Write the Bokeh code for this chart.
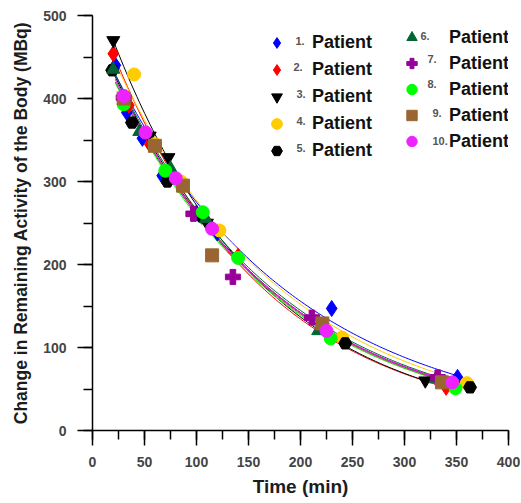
import numpy as np
from bokeh.plotting import figure
from bokeh.models import Range1d, SingleIntervalTicker, Legend, LegendItem, Label, ColumnDataSource
from bokeh.embed import file_html
from bokeh.resources import INLINE

# ---- data ----
patients = ["1.", "2.", "3.", "4.", "5.", "6.", "7.", "8.", "9.", "10."]
colors = ["#0000FF", "#FF0000", "#000000", "#FFCC00", "#000000",
          "#006633", "#990099", "#00FF00", "#996633", "#EE22FF"]
markers = ["diamond", "diamond", "inverted_triangle", "circle", "hex",
           "triangle", "plus", "circle", "square", "circle"]

t1 = [22, 33, 48, 67, 100, 120, 230, 351]
y1 = [440, 383, 352, 307, 262, 238, 147, 64]
t2 = [20, 35, 55, 75, 105, 140, 225, 340]
y2 = [454, 392, 345, 310, 258, 210, 118, 52]
t3 = [20, 55, 73, 110, 220, 320]
y3 = [470, 355, 329, 250, 125, 60]
t4 = [40, 60, 85, 122, 240, 360]
y4 = [429, 345, 300, 241, 112, 57]
t5 = [19, 38, 72, 105, 243, 363]
y5 = [434, 371, 300, 258, 105, 52]
t6 = [20, 45, 75, 109, 217, 330]
y6 = [435, 360, 316, 255, 120, 62]
t7 = [30, 97, 135, 211, 332]
y7 = [401, 261, 185, 136, 64]
t8 = [30, 70, 106, 140, 229, 349]
y8 = [393, 313, 263, 208, 111, 51]
t9 = [30, 60, 87, 115, 221, 336]
y9 = [400, 343, 295, 211, 129, 58]
t10 = [30, 51, 80, 115, 225, 346]
y10 = [403, 359, 304, 243, 120, 58]

# exponential fit parameters per patient: A * exp(-k t)
fit_amplitude = [486, 520, 539, 505, 488, 490, 480, 480, 485, 484]
fit_rate = [0.00569, 0.00677, 0.00686, 0.0060, 0.00617, 0.0061, 0.0061, 0.0062, 0.0062, 0.00613]
fit_start = [20, 20, 20, 22, 19, 20, 22, 22, 22, 22]

times = [t1, t2, t3, t4, t5, t6, t7, t8, t9, t10]
values = [y1, y2, y3, y4, y5, y6, y7, y8, y9, y10]

x_ticks_interval = 50
y_ticks_interval = 100

FONT = "Liberation Sans"

p = figure(frame_width=416, frame_height=415,
           min_border_left=92, min_border_top=15, min_border_right=12, min_border_bottom=72,
           x_range=Range1d(0, 400), y_range=Range1d(0, 500),
           output_backend="svg", toolbar_location=None)
p.outline_line_color = None
p.xgrid.grid_line_color = None
p.ygrid.grid_line_color = None
p.background_fill_color = "white"
p.border_fill_color = "white"

for ax, interval in ((p.xaxis, x_ticks_interval), (p.yaxis, y_ticks_interval)):
    ax.ticker = SingleIntervalTicker(interval=interval, num_minor_ticks=2)
    ax.axis_line_width = 1.5
    ax.major_tick_line_width = 1.5
    ax.minor_tick_line_width = 1.5
    ax.major_tick_out = 15
    ax.major_tick_in = 0
    ax.minor_tick_out = 9
    ax.minor_tick_in = 0
    ax.major_label_text_font = FONT
    ax.major_label_text_font_style = "bold"
    ax.major_label_text_font_size = "14px"
    ax.major_label_text_color = "#444444"
    ax.axis_label_text_font = FONT
    ax.axis_label_text_font_style = "bold"
    ax.axis_label_text_color = "#1c1c1c"

p.xaxis.axis_label = "Time (min)"
p.xaxis.axis_label_text_font_size = "19px"
p.xaxis.major_label_standoff = 11
p.xaxis.axis_label_standoff = 6
p.yaxis.axis_label = "Change in Remaining Activity of the Body (MBq)"
p.yaxis.axis_label_text_font_size = "17.5px"
p.yaxis.major_label_standoff = 11
p.yaxis.axis_label_standoff = 9

renderers = []
for i in range(10):
    t = np.array(times[i], dtype=float)
    tt = np.linspace(min(t.min(), fit_start[i]), t.max(), 120)
    yy = fit_amplitude[i] * np.exp(-fit_rate[i] * tt)
    p.line(tt, yy, line_color=colors[i], line_width=1)

for i in range(10):
    src = ColumnDataSource(dict(x=times[i], y=values[i]))
    kw = dict(marker=markers[i], size=13, fill_color=colors[i], line_color=colors[i])
    if markers[i] == "plus":
        kw["size"] = 15
    if markers[i] == "diamond":
        kw["size"] = 16
    r = p.scatter("x", "y", source=src, **kw)
    renderers.append(r)

def make_legend(idx, loc, standoff, gh):
    items = [LegendItem(label="Patient", renderers=[renderers[i]]) for i in idx]
    lg = Legend(items=items, location=loc, orientation="vertical",
                glyph_width=35, glyph_height=gh, label_height=gh,
                spacing=0, padding=0, margin=0, label_standoff=standoff,
                border_line_color=None, background_fill_alpha=0,
                label_text_font=FONT, label_text_font_style="bold",
                label_text_font_size="18px", label_text_color="#111111")
    p.add_layout(lg, "center")

make_legend([0, 1, 2, 3, 4], (167, 266), 18, 27)
make_legend([5, 6, 7, 8, 9], (302, 276), 20, 26)

num_pos = [(203, 390), (201, 364), (204, 337), (204, 310), (204, 283),
           (328, 395), (335, 372), (335, 347), (340, 318), (340, 290)]
for name, (sx, sy) in zip(patients, num_pos):
    p.add_layout(Label(x=sx, y=sy, x_units="screen", y_units="screen", text=name,
                       text_font=FONT, text_font_style="bold", text_font_size="11px",
                       text_color="#555555", text_baseline="middle", text_align="left"))

open("out.html", "w").write(file_html(p, INLINE))
